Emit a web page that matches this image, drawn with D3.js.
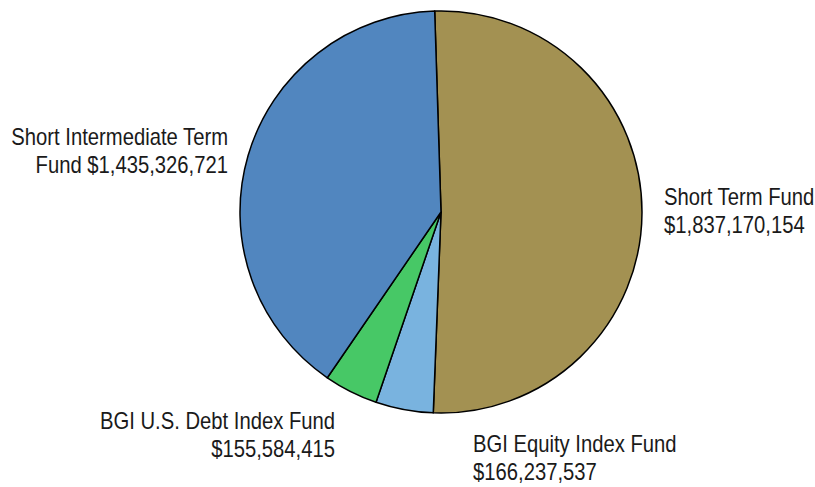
<!DOCTYPE html>
<html>
<head>
<meta charset="utf-8">
<script src="https://cdn.jsdelivr.net/npm/d3@7"></script>
<style>
  body { margin: 0; background: #fff; }
  svg { display: block; }
</style>
</head>
<body>
<svg id="chart"></svg>
<script>
const width = 815;
const height = 487;

// Fund balances
const funds = ["Short Term Fund", "BGI Equity Index Fund", "BGI U.S. Debt Index Fund", "Short Intermediate Term Fund"];
const amounts = [1837170154, 166237537, 155584415, 1435326721];
const colors = ["#a39152", "#79b3df", "#47c866", "#5186bf"];

// label lines (as in the original, wrapped by hand)
const labelLines = [
  ["Short Term Fund", "$1,837,170,154"],
  ["BGI Equity Index Fund", "$166,237,537"],
  ["BGI U.S. Debt Index Fund", "$155,584,415"],
  ["Short Intermediate Term", "Fund $1,435,326,721"]
];

const cx = 441, cy = 212, radius = 201;
const startDeg = -1.8;
const narrow = 0.88; // fake Arial Narrow by squeezing Liberation Sans

const svg = d3.select("#chart")
  .attr("width", width)
  .attr("height", height);

const data = funds.map((name, i) => ({ name: name, value: amounts[i], color: colors[i], lines: labelLines[i] }));

const pie = d3.pie()
  .value(d => d.value)
  .sort(null)
  .startAngle(startDeg * Math.PI / 180)
  .endAngle(startDeg * Math.PI / 180 + 2 * Math.PI);

const arc = d3.arc().innerRadius(0).outerRadius(radius);

const g = svg.append("g").attr("transform", `translate(${cx},${cy})`);

g.selectAll("path")
  .data(pie(data))
  .enter()
  .append("path")
  .attr("d", arc)
  .attr("fill", d => d.data.color)
  .attr("stroke", "#000")
  .attr("stroke-width", 1.5)
  .attr("stroke-linejoin", "round");

// label placement + alignment
const labelPos = [
  { x: 664, y: 205, anchor: "start" },
  { x: 473, y: 452, anchor: "start" },
  { x: 335, y: 429, anchor: "end" },
  { x: 228, y: 145, anchor: "end" }
];

const labels = svg.append("g")
  .attr("font-family", "'Liberation Sans', Arial, sans-serif")
  .attr("font-size", "23px")
  .attr("fill", "#1a1a1a");

data.forEach((d, i) => {
  const p = labelPos[i];
  const t = labels.append("text")
    .attr("transform", `translate(${p.x},${p.y}) scale(${narrow},1)`)
    .attr("text-anchor", p.anchor);
  d.lines.forEach((line, j) => {
    t.append("tspan")
      .attr("x", 0)
      .attr("dy", j === 0 ? 0 : 28)
      .text(line);
  });
});
</script>
</body>
</html>
